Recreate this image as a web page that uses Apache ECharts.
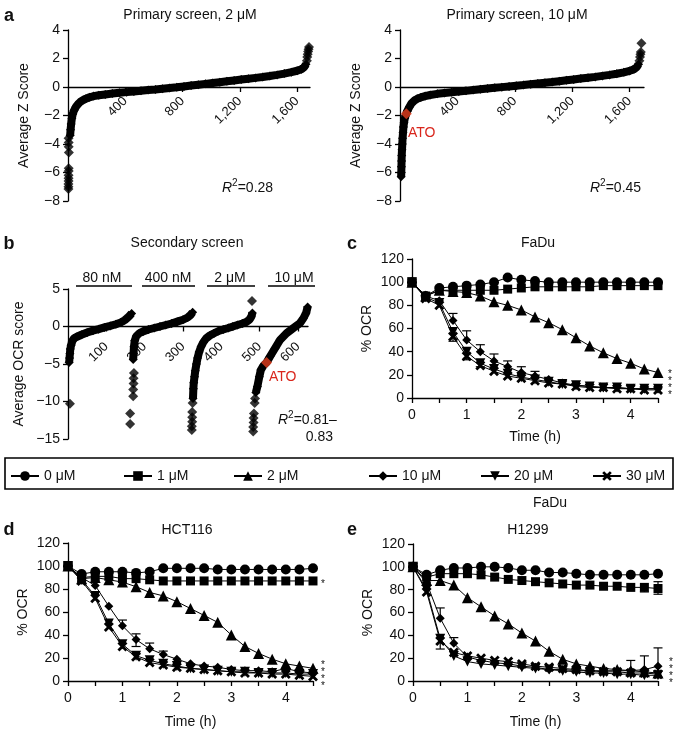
<!DOCTYPE html>
<html><head><meta charset="utf-8">
<script src="https://cdn.jsdelivr.net/npm/echarts@6/dist/echarts.min.js"></script>
<style>html,body{margin:0;padding:0;background:#fff}#c{width:685px;height:733px}</style>
</head><body><div id="c"></div>
<script>
// ---------- DATA ----------
// Panel a (left): primary screen 2 uM, sorted average Z score
const aLeftBand = [[15,-3.4],[18,-3.0],[22,-2.6],[27,-2.2],[33,-1.9],[42,-1.65],[55,-1.4],[70,-1.2],[85,-1.05],[105,-0.92],[125,-0.82],[150,-0.72],[180,-0.64],[215,-0.58],[260,-0.52],[310,-0.46],[360,-0.41],[410,-0.36],[460,-0.31],[510,-0.26],[560,-0.21],[610,-0.17],[660,-0.12],[710,-0.07],[760,-0.02],[810,0.04],[860,0.1],[910,0.16],[960,0.22],[1010,0.28],[1060,0.34],[1110,0.4],[1160,0.46],[1210,0.52],[1260,0.58],[1310,0.64],[1360,0.7],[1410,0.77],[1460,0.85],[1510,0.94],[1560,1.04],[1600,1.14],[1630,1.25],[1650,1.4],[1662,1.6]];
const aLeftTails = [[4,-3.6],[5,-3.9],[5,-4.2],[6,-4.6],[5,-5.7],[5,-5.9],[4,-6.2],[4,-6.4],[4,-6.6],[3,-6.8],[3,-7.0],[3,-7.15],[1668,1.85],[1671,2.1],[1674,2.3],[1677,2.5],[1680,2.65],[1683,2.8]];
// Panel a (right): primary screen 10 uM
const aRightBand = [[8,-6.3],[9,-6.0],[10,-5.6],[11,-5.2],[12,-4.8],[14,-4.4],[16,-4.0],[18,-3.6],[21,-3.2],[24,-2.8],[28,-2.5],[33,-2.2],[39,-2.0],[50,-1.7],[65,-1.4],[80,-1.15],[100,-0.95],[120,-0.83],[145,-0.73],[175,-0.64],[210,-0.56],[260,-0.48],[310,-0.42],[360,-0.37],[410,-0.32],[460,-0.27],[510,-0.21],[560,-0.16],[610,-0.11],[660,-0.06],[710,-0.01],[760,0.04],[810,0.09],[860,0.14],[910,0.2],[960,0.25],[1010,0.3],[1060,0.35],[1110,0.41],[1160,0.47],[1210,0.53],[1260,0.59],[1310,0.65],[1360,0.71],[1410,0.78],[1460,0.85],[1510,0.93],[1560,1.03],[1600,1.13],[1630,1.25],[1650,1.4],[1662,1.6]];
const aRightTails = [[1668,1.85],[1672,2.1],[1675,2.3],[1678,2.45],[1682,3.07]];
const aRightATO = [[44,-1.88]];
// Panel b: secondary screen, four concentrations
const bGroupLabels = ['80 nM','400 nM','2 \u03bcM','10 \u03bcM'];
const bBand80 = [[3,-4.8],[4,-4.2],[5,-3.6],[6,-3.0],[8,-2.5],[11,-2.0],[15,-1.6],[22,-1.4],[35,-1.1],[50,-0.8],[65,-0.55],[80,-0.35],[95,-0.12],[110,0.08],[125,0.3],[138,0.55],[148,0.85],[155,1.15],[161,1.45],[166,1.75]];
const bBand400 = [[170,-4.4],[171,-3.6],[172,-2.7],[174,-1.9],[178,-1.3],[186,-0.9],[196,-0.65],[210,-0.4],[225,-0.2],[240,0],[255,0.2],[270,0.4],[285,0.65],[300,0.9],[312,1.2],[320,1.55],[325,1.9]];
const bBand2 = [[326,-9.6],[327,-8.3],[328,-7.5],[330,-6.7],[332,-5.9],[335,-5.0],[338,-4.2],[342,-3.4],[347,-2.7],[353,-2.1],[360,-1.6],[370,-1.2],[381,-0.9],[393,-0.6],[405,-0.4],[418,-0.2],[430,0],[442,0.2],[455,0.4],[465,0.6],[473,0.9],[478,1.3],[481,1.8]];
const bBand10 = [[490,-8.8],[494,-8.0],[499,-6.7],[503,-5.8],[510,-5.2],[518,-4.8],[527,-4.0],[540,-2.9],[553,-1.8],[570,-0.9],[588,-0.2],[605,0.45],[614,1.1],[621,1.8],[625,2.6]];
const bOutliers = [[5,-10.3],[162,-13.0],[162,-11.6],[170,-9.3],[170,-8.4],[171,-7.6],[171,-6.9],[172,-6.2],[323,-13.8],[323,-13.3],[324,-12.7],[324,-12.1],[324,-11.4],[325,-10.2],[480,3.4],[483,-14.0],[483,-13.4],[484,-12.8],[484,-12.2],[485,-11.6],[487,-10.2],[488,-9.6]];
const bATO = [[518,-4.8]];
// Panels c-e: % OCR over time
const times = [0,0.25,0.5,0.75,1,1.25,1.5,1.75,2,2.25,2.5,2.75,3,3.25,3.5,3.75,4,4.25,4.5];
const doses = ['0 \u03bcM','1 \u03bcM','2 \u03bcM','10 \u03bcM','20 \u03bcM','30 \u03bcM'];
const fadu0  = [100,88,95,96,97,98,100,104,102,101,100,100,100,100,100,100,100,100,100];
const fadu1  = [100,88,93,93,93,93,93,94,95,96,96,96,96,96,97,97,97,97,97];
const fadu2  = [100,88,93,92,91,88,83,80,76,70,65,59,52,45,39,34,30,25,22];
const fadu10 = [100,88,84,67,50,40,32,27,22,19,16,13,11,10,9,9,8,8,8];
const fadu20 = [100,87,82,57,40,30,25,21,18,16,14,12,11,10,9,9,8,8,8];
const fadu30 = [100,86,80,53,36,28,23,19,17,15,13,12,10,9,9,8,8,7,7];
const faduErr = [[0.75,67,73],[1,50,58],[1.25,40,46],[1.5,32,38],[1.75,27,32],[2,22,27],[2.25,19,23],[0.75,53,49],[1,36,33],[1.25,28,27]];
const hct0  = [100,93,95,95,95,94,95,98,98,98,98,97,97,97,97,97,97,97,98];
const hct1  = [100,90,91,91,89,89,88,87,87,87,87,87,87,87,87,87,87,87,87];
const hct2  = [100,89,90,88,86,82,77,74,69,63,57,51,40,30,24,19,15,13,11];
const hct10 = [100,90,83,65,48,36,28,23,19,15,13,12,10,9,9,8,11,8,7];
const hct20 = [100,88,74,50,32,22,18,15,13,11,10,9,8,8,7,7,7,6,6];
const hct30 = [100,87,72,47,30,21,16,14,12,11,10,9,8,7,7,6,6,5,4];
const hctErr = [[1,48,53],[1.25,36,41],[1.25,36,30],[1.5,28,33],[1.75,23,26]];
const h0  = [100,93,97,99,99,100,100,99,97,97,95,95,94,93,93,93,93,93,94];
const h1  = [100,91,94,94,94,93,91,89,88,87,86,85,84,84,83,83,82,82,81];
const h2  = [100,88,88,84,73,65,57,50,42,35,26,19,15,13,11,10,9,8,7];
const h10 = [100,86,55,33,21,18,16,15,13,12,10,10,9,9,9,9,9,10,13];
const h20 = [100,80,37,22,17,15,14,13,12,11,10,9,8,7,7,6,6,5,5];
const h30 = [100,78,35,25,22,20,18,17,15,13,12,11,10,9,8,8,7,7,6];
const hErr = [[0.5,55,64],[0.5,37,28],[0.75,33,38],[4,9,18],[4.25,10,22],[4.5,13,29],[4.25,82,78],[4.5,81,76],[4.5,81,87]];
const aTicks = [400,800,1200,1600];
const bTicks = [100,200,300,400,500,600];

// ---------- CHART ----------
const FONT = '"Liberation Sans", Arial, Helvetica, sans-serif';
const chart = echarts.init(document.getElementById('c'), null, {renderer:'canvas'});
const minus = v => String(v).replace('-', '\u2212');
const axisBase = {
  axisLine:{lineStyle:{color:'#000',width:1.3}},
  axisTick:{length:5,lineStyle:{color:'#000',width:1.3}},
  splitLine:{show:false},
  axisLabel:{color:'#111',fontSize:14,fontFamily:FONT,margin:8},
  nameTextStyle:{color:'#111',fontSize:14,fontFamily:FONT}
};
function ax(o){ const r = JSON.parse(JSON.stringify(axisBase)); for (const k in o){ if (typeof o[k]==='object' && !Array.isArray(o[k]) && r[k]) Object.assign(r[k], o[k]); else r[k]=o[k]; } return r; }

const grids = [
  {left:68, top:30, width:242, height:171},
  {left:400, top:30, width:244, height:171},
  {left:68, top:289, width:240, height:150},
  {left:412, top:259, width:246, height:139},
  {left:68, top:543, width:245, height:138},
  {left:413, top:544, width:245, height:137}
];
const rotLabel = (vals, m) => ({rotate:45, fontSize:13, customValues:vals, margin:m, formatter: v => v>=1000 ? String(v).replace(/(\d)(\d{3})$/,'$1,$2') : String(v)});
// x axes of a and b sit on the zero line of the y axis (offset moves them up from the grid bottom)
const xAxes = [
  ax({gridIndex:0,type:'value',min:0,max:1690,offset:-114,axisLine:{onZero:false},axisLabel:rotLabel(aTicks,12),axisTick:{customValues:aTicks}}),
  ax({gridIndex:1,type:'value',min:0,max:1700,offset:-114,axisLine:{onZero:false},axisLabel:rotLabel(aTicks,12),axisTick:{customValues:aTicks}}),
  ax({gridIndex:2,type:'value',min:0,max:626,offset:-112.5,axisLine:{onZero:false},axisLabel:rotLabel(bTicks,18),axisTick:{customValues:bTicks}}),
];
[3,4,5].forEach(g => xAxes.push(ax({gridIndex:g,type:'value',min:0,max:4.5,interval:0.5,name:'Time (h)',nameLocation:'middle',nameGap:g===3?32:34,
  axisLabel:{formatter: v => (Math.abs(v-Math.round(v))<1e-9 ? String(Math.round(v)) : ''), margin:10}})));
const yAxes = [
  ax({gridIndex:0,type:'value',min:-8,max:4,interval:2,name:'Average Z Score',nameLocation:'middle',nameGap:37,axisLine:{onZero:false},axisLabel:{formatter:minus}}),
  ax({gridIndex:1,type:'value',min:-8,max:4,interval:2,name:'Average Z Score',nameLocation:'middle',nameGap:37,axisLine:{onZero:false},axisLabel:{formatter:minus}}),
  ax({gridIndex:2,type:'value',min:-15,max:5,interval:5,name:'Average OCR score',nameLocation:'middle',nameGap:42,axisLine:{onZero:false},axisLabel:{formatter:minus}}),
];
[3,4,5].forEach(g => yAxes.push(ax({gridIndex:g,type:'value',min:0,max:120,interval:20,name:'% OCR',nameLocation:'middle',nameGap:38})));

const series = [];
function band(idx, data){ series.push({type:'line',xAxisIndex:idx,yAxisIndex:idx,data,symbol:'diamond',symbolSize:9,showAllSymbol:true,
  lineStyle:{color:'#000',width:8},itemStyle:{color:'#000'},silent:true,z:2}); }
function dots(idx, data, color, size){ series.push({type:'scatter',xAxisIndex:idx,yAxisIndex:idx,data,symbol:'diamond',symbolSize:size||10,
  itemStyle:{color:color||'#000'},silent:true,z:color?5:3}); }
band(0, aLeftBand); dots(0, aLeftTails);
band(1, aRightBand); dots(1, aRightTails); dots(1, aRightATO, '#e5401f', 11);
band(2, bBand80); band(2, bBand400); band(2, bBand2); band(2, bBand10); dots(2, bOutliers); dots(2, bATO, '#e5401f', 11);

const XPATH = 'path://M2,0L5,3L8,0L10,2L7,5L10,8L8,10L5,7L2,10L0,8L3,5L0,2Z';
const symDefs = [
  {symbol:'circle',size:10,rot:0},
  {symbol:'rect',size:9,rot:0},
  {symbol:'triangle',size:11,rot:0},
  {symbol:'diamond',size:9,rot:0},
  {symbol:'triangle',size:10,rot:180},
  {symbol:XPATH,size:10,rot:0}
];
function errRender(params, api){
  const x = api.value(0), from = api.value(1), to = api.value(2);
  const p1 = api.coord([x, from]), p2 = api.coord([x, to]);
  const w = 4.5;
  return {type:'group',children:[
    {type:'line',shape:{x1:p1[0],y1:p1[1],x2:p2[0],y2:p2[1]},style:{stroke:'#000',lineWidth:1.2}},
    {type:'line',shape:{x1:p2[0]-w,y1:p2[1],x2:p2[0]+w,y2:p2[1]},style:{stroke:'#000',lineWidth:1.2}}
  ]};
}
function ocrPanel(idx, sets, err){
  series.push({type:'custom',xAxisIndex:idx,yAxisIndex:idx,data:err,renderItem:errRender,encode:{x:0,y:[1,2]},silent:true,z:1});
  sets.forEach((vals,i) => {
    const s = symDefs[i];
    series.push({type:'line',name:doses[i],xAxisIndex:idx,yAxisIndex:idx,data:times.map((t,k)=>[t,vals[k]]),
      symbol:s.symbol,symbolSize:s.size,symbolRotate:s.rot,showAllSymbol:true,
      lineStyle:{color:'#000',width:1},itemStyle:{color:'#000'},z:3+(5-i)});
  });
}
ocrPanel(3,[fadu0,fadu1,fadu2,fadu10,fadu20,fadu30],faduErr);
ocrPanel(4,[hct0,hct1,hct2,hct10,hct20,hct30],hctErr);
ocrPanel(5,[h0,h1,h2,h10,h20,h30],hErr);

const legendLeft = [10,123,233,368,480,592];
const legends = doses.map((d,i)=>({data:[d],left:legendLeft[i],top:469,padding:0,itemWidth:28,itemHeight:12,itemGap:0,
  selectedMode:false,lineStyle:{width:2},textStyle:{fontSize:14,color:'#111',fontFamily:FONT}}));

function T(x,y,text,size,o){ o=o||{}; return {type:'text',x,y,z:100,silent:true,style:Object.assign({text,fill:o.fill||'#111',fontSize:size,fontFamily:FONT,fontWeight:o.weight||'normal',
  align:o.align||'center',verticalAlign:'middle'},o.style||{})}; }
function L(x1,x2,y){ return {type:'line',z:100,silent:true,shape:{x1,y1:y,x2,y2:y},style:{stroke:'#000',lineWidth:1.5}}; }
const r2rich = {i:{fontStyle:'italic',fontSize:14,fontFamily:FONT,fill:'#111'},s:{fontSize:10,fontFamily:FONT,fill:'#111',padding:[0,0,9,0]},n:{fontSize:14,fontFamily:FONT,fill:'#111'}};
const R2 = (x,y,val,align) => T(x,y,'{i|R}{s|2}{n|='+val+'}',14,{align:align||'left',style:{rich:r2rich}});
const star = (x,y) => T(x,y,'*',10);
const graphic = [
  T(9,16,'a',18,{weight:'bold'}), T(9,244,'b',18,{weight:'bold'}), T(352,244,'c',18,{weight:'bold'}),
  T(9,530,'d',18,{weight:'bold'}), T(352,530,'e',18,{weight:'bold'}),
  T(190,15,'Primary screen, 2 \u03bcM',14), T(517,15,'Primary screen, 10 \u03bcM',14),
  T(187,243,'Secondary screen',14), T(538,243,'FaDu',14), T(187,530,'HCT116',14), T(528,530,'H1299',14),
  R2(222,188,'0.28'), R2(590,188,'0.45'),
  R2(278,420,'0.81\u2013'), T(333,437,'0.83',14,{align:'right'}),
  T(408,133,'ATO',14,{fill:'#d9261c',align:'left'}), T(269,377,'ATO',14,{fill:'#d9261c',align:'left'}),
  T(102,278,bGroupLabels[0],14), T(168,278,bGroupLabels[1],14), T(230,278,bGroupLabels[2],14), T(294,278,bGroupLabels[3],14),
  L(76,132,286), L(142,195,286), L(207,255,286), L(268,315,286),
  {type:'rect',z:100,silent:true,shape:{x:5,y:458,width:668,height:31},style:{fill:'none',stroke:'#000',lineWidth:1.6}},
  T(550,503,'FaDu',14),
  star(670,374), star(670,381), star(670,388), star(670,395),
  star(323,584), star(323,665), star(323,672), star(323,679), star(323,686),
  star(671,662), star(671,669), star(671,676), star(671,683)
];

chart.setOption({
  animation:false,
  textStyle:{fontFamily:FONT},
  grid:grids, xAxis:xAxes, yAxis:yAxes, series, legend:legends, graphic
});
</script></body></html>
